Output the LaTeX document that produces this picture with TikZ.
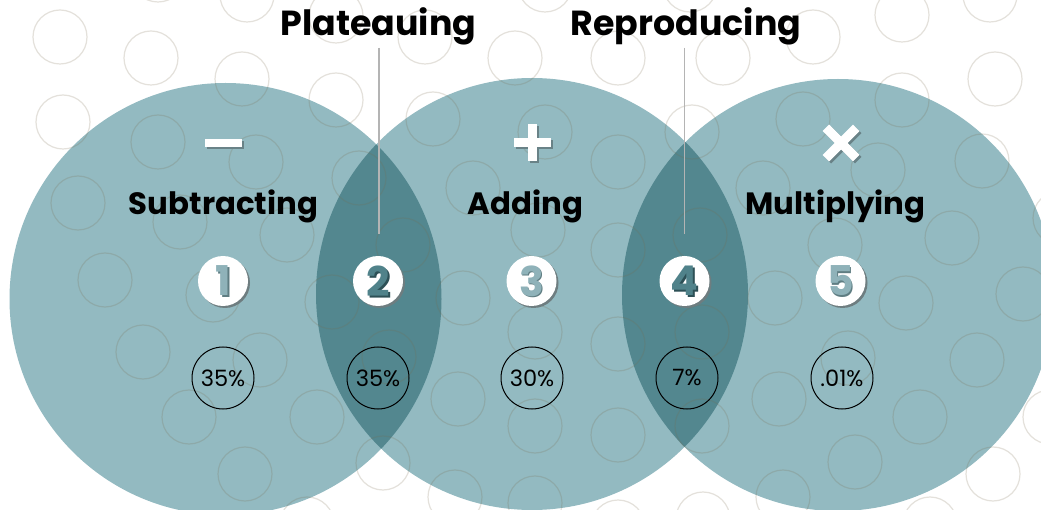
\documentclass[tikz,border=0pt]{standalone}
\usepackage{fontspec}
\setmainfont{Poppins}
\definecolor{teal1}{RGB}{147,186,193}
\definecolor{lens}{RGB}{83,135,143}
\definecolor{patt}{RGB}{120,105,75}
\definecolor{iconsh}{RGB}{105,130,135}
\definecolor{dig1}{RGB}{143,178,185}
\definecolor{dig1sh}{RGB}{95,125,130}
\definecolor{dig2}{RGB}{80,130,138}
\definecolor{dig2sh}{RGB}{45,80,86}
\definecolor{badgesh}{RGB}{110,125,128}
\definecolor{vline}{RGB}{180,180,180}
\tikzset{
  bigc/.style={fill=teal1},
  pat/.style={draw=patt, draw opacity=0.2, line width=1.2pt},
  heading/.style={font=\bfseries\fontsize{30.8}{34}\selectfont, anchor=base, inner sep=0},
  toplabel/.style={font=\bfseries\fontsize{34.8}{36}\selectfont, anchor=base, inner sep=0},
  badge/.style={circle, fill=white, minimum size=50pt, inner sep=0},
  badgeshadow/.style={circle, fill=badgesh, minimum size=50pt, inner sep=0},
  digit/.style={font=\bfseries\fontsize{41}{42}\selectfont, inner sep=0},
  pct/.style={circle, draw=black, line width=1pt, minimum size=62pt, inner sep=0, font=\fontsize{22.5}{24}\selectfont},
  guide/.style={draw=vline, line width=1.6pt},
  icon/.style={fill=white},
  iconshadow/.style={fill=iconsh}
}
\begin{document}
\begin{tikzpicture}[x=1pt,y=-1pt]
\useasboundingbox (0,0) rectangle (1041,510);
\fill[white] (0,0) rectangle (1041,510);
% big circles
\fill[bigc] (225.5,299) circle (216);
\fill[bigc] (532,294) circle (216);
\fill[bigc] (838,295) circle (216);
\begin{scope}
  \clip (225.5,299) circle (216);
  \fill[lens] (532,294) circle (216);
\end{scope}
\begin{scope}
  \clip (532,294) circle (216);
  \fill[lens] (838,295) circle (216);
\end{scope}
% background pattern
\foreach \px/\py in {60/37,158/-25,247/-5,336/16,151/58,242/79,336/100,63/122,158/142,256/162,359/178,78/203,180/222,287/235,403/245,425/37,515/58,433/119,473/188,545/-15,690/-15,902/15,990/-5,618/58,723/58,813/37,995/79,902/100,545/132,692/132,803/119,618/162,763/188,878/170,982/161,538/230,618/250,700/235,835/245,952/238,1060/218,105/280,213/295,332/302,143/352,260/360,389/357,463/298,535/332,189/417,317/417,458/399,245/474,383/463,455/497,307/524,535/426,775/298,906/303,1023/294,618/344,702/332,848/358,977/360,618/435,702/426,779/399,920/417,1050/417,535/503,618/527,703/519,855/462,783/497,930/524,993/474}
  \draw[pat] (\px,\py) circle (27);
% guide lines
\coordinate (pl) at (379,48);
\coordinate (plb) at (379,234);
\coordinate (rp) at (684.5,48);
\coordinate (rpb) at (684.5,234);
\draw[guide] (pl) -- (plb);
\draw[guide] (rp) -- (rpb);
% top labels
\node[toplabel] (plat) at (378.5,36) {Plateauing};
\node[toplabel] (repr) at (686,36) {Reproducing};
% headings
\node[heading] (sub) at (223.5,215) {Subtracting};
\node[heading] (add) at (525.5,215) {Adding};
\node[heading] (mul) at (835.5,215) {Multiplying};
% icons: minus
\fill[iconshadow] (207,141) rectangle (244,149);
\fill[icon] (205,139) rectangle (242,147);
% plus
\fill[iconshadow] (515.5,140.5) rectangle (552.5,149.5);
\fill[iconshadow] (529.5,126.5) rectangle (538.5,163.5);
\fill[icon] (513.5,138.5) rectangle (550.5,147.5);
\fill[icon] (527.5,124.5) rectangle (536.5,161.5);
% times
\begin{scope}[shift={(843,145)},rotate=45]
  \fill[iconshadow] (-21.5,-4.6) rectangle (21.5,4.6);
  \fill[iconshadow] (-4.6,-21.5) rectangle (4.6,21.5);
\end{scope}
\begin{scope}[shift={(841,143)},rotate=45]
  \fill[icon] (-21.5,-4.6) rectangle (21.5,4.6);
  \fill[icon] (-4.6,-21.5) rectangle (4.6,21.5);
\end{scope}
% badges
\foreach \bx/\num/\fc/\sc in {223/1/dig1/dig1sh,378/2/dig2/dig2sh,531.5/3/dig1/dig1sh,684.5/4/dig2/dig2sh,840.5/5/dig1/dig1sh}{
  \node[badgeshadow] at (\bx+2,283) {};
  \node[badge] (b\num) at (\bx,281) {};
  \node[digit, text=\sc] at (\bx+1.8,282.8) {\num};
  \node[digit, text=\fc] at (b\num) {\num};
}
% percentage circles
\node[pct] (p1) at (223,378) {35\%};
\node[pct] (p2) at (378,378) {35\%};
\node[pct] (p3) at (532,378) {30\%};
\node[pct] (p4) at (687,378) {7\%};
\node[pct] (p5) at (842,378) {.01\%};
\end{tikzpicture}
\end{document}
